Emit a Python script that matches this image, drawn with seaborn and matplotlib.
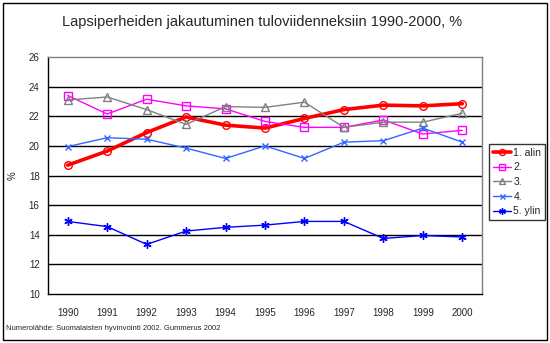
import matplotlib
matplotlib.use("Agg")
import matplotlib.pyplot as plt
from matplotlib.patches import Rectangle
import seaborn as sns
import pandas as pd

years = ["1990", "1991", "1992", "1993", "1994", "1995",
         "1996", "1997", "1998", "1999", "2000"]
series_names = ["1. alin", "2.", "3.", "4.", "5. ylin"]
q1 = [18.7, 19.65, 20.9, 21.95, 21.4, 21.2, 21.85, 22.45, 22.75, 22.7, 22.85]
q2 = [23.4, 22.15, 23.15, 22.7, 22.5, 21.65, 21.25, 21.25, 21.75, 20.8, 21.05]
q3 = [23.1, 23.3, 22.45, 21.45, 22.65, 22.6, 22.95, 21.25, 21.6, 21.6, 22.2]
q4 = [19.95, 20.55, 20.45, 19.85, 19.15, 20.0, 19.15, 20.25, 20.35, 21.2, 20.25]
q5 = [14.9, 14.55, 13.35, 14.25, 14.5, 14.65, 14.9, 14.9, 13.75, 13.95, 13.85]
y_ticks = [10, 12, 14, 16, 18, 20, 22, 24, 26]

values = [q1, q2, q3, q4, q5]
frames = []
for name, vals in zip(series_names, values):
    frames.append(pd.DataFrame({"pos": range(len(years)), "value": vals,
                                "series": name}))
df = pd.concat(frames, ignore_index=True)

styles = {
    "1. alin": dict(color="#ff0000", marker="o", lw=2.6, ms=5.5),
    "2.": dict(color="#ff00ff", marker="s", lw=1.0, ms=5.5),
    "3.": dict(color="#808080", marker="^", lw=1.0, ms=6),
    "4.": dict(color="#3366ff", marker="x", lw=1.0, ms=4.5),
    "5. ylin": dict(color="#0000ff", marker=(6, 2, 0), lw=1.0, ms=6),
}

sns.set_style("white")
plt.rcParams["font.family"] = ["Liberation Sans", "DejaVu Sans"]

fig = plt.figure(figsize=(5.5, 3.43), dpi=100)
ax = fig.add_axes([48 / 550, 1 - 294 / 343, (482 - 48) / 550, (294 - 57) / 343])

for name in series_names:
    st = styles[name]
    sub = df[df["series"] == name]
    sns.lineplot(data=sub, x="pos", y="value", ax=ax, label=name,
                 color=st["color"], marker=st["marker"], linewidth=st["lw"],
                 markersize=st["ms"], markerfacecolor="none",
                 markeredgecolor=st["color"], markeredgewidth=1.0)

ax.set_xlim(-0.5, len(years) - 0.5)
ax.set_ylim(10, 26)
ax.set_yticks(y_ticks)
ax.set_yticklabels([str(t) for t in y_ticks], fontsize=7)
ax.set_xticks(range(len(years)))
ax.set_xticklabels(years, fontsize=7)
ax.set_xticks([i - 0.5 for i in range(len(years) + 1)], minor=True)
ax.tick_params(axis="x", which="major", length=0, pad=10)
ax.tick_params(axis="x", which="minor", length=4, width=1, color="black", direction="out")
ax.tick_params(axis="y", length=4, width=1, color="black", direction="out", pad=2)
ax.set_xlabel("")
ax.set_ylabel("%", fontsize=7, labelpad=8)

for t in y_ticks[1:-1]:
    ax.axhline(t, color="black", lw=1.0, zorder=0.5)

ax.spines["left"].set_color("black")
ax.spines["bottom"].set_color("black")
ax.spines["top"].set_color("#808080")
ax.spines["right"].set_color("#808080")
for s in ax.spines.values():
    s.set_linewidth(1.0)

leg = ax.legend(loc="upper left", bbox_to_anchor=(489 / 550, 1 - 144 / 343),
                bbox_transform=fig.transFigure, fontsize=7.5, frameon=True,
                fancybox=False, edgecolor="black", borderpad=0.35,
                labelspacing=0.45, handlelength=1.8, handletextpad=0.2,
                borderaxespad=0, markerscale=0.8)
leg.get_frame().set_linewidth(1.0)

fig.text(262 / 550, 1 - 22 / 343, "Lapsiperheiden jakautuminen tuloviidenneksiin 1990-2000, %",
         ha="center", va="center", fontsize=10.5)
fig.text(6 / 550, 1 - 328 / 343, "Numerolähde: Suomalaisten hyvinvointi 2002. Gummerus 2002",
         ha="left", va="center", fontsize=5.5)

fig.patches.append(Rectangle((3 / 550, 3 / 343), 544 / 550, 337 / 343,
                             transform=fig.transFigure, fill=False,
                             edgecolor="black", lw=1.0))

fig.savefig("out.png", dpi=100)
